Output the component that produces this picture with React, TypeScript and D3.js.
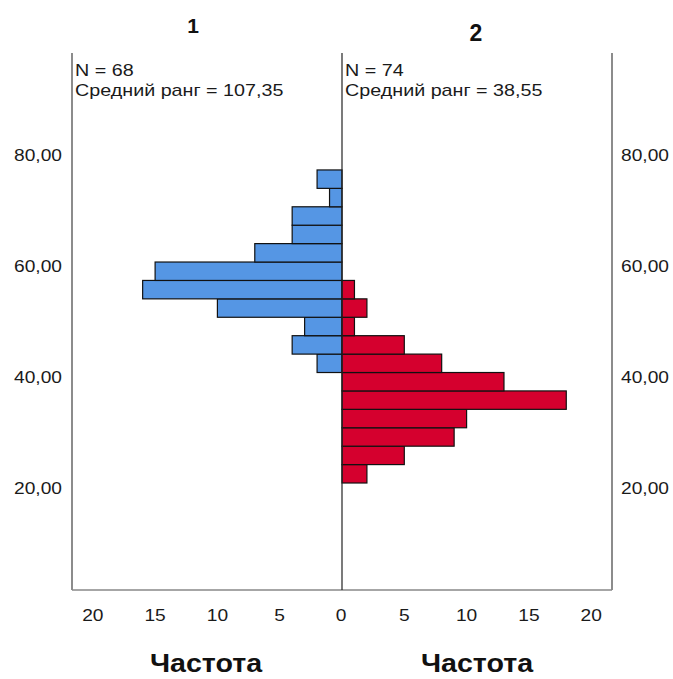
import React from "react";
import * as d3 from "d3";

// bins go bottom -> top, starting at binStart, each binWidth wide
const binStart = 20.9;
const binWidth = 3.318;
const group1Counts = [0, 0, 0, 0, 0, 0, 2, 4, 3, 10, 16, 15, 7, 4, 4, 1, 2];
const group2Counts = [2, 5, 9, 10, 18, 13, 8, 5, 1, 2, 1, 0, 0, 0, 0, 0, 0];
const groupTitles = ["1", "2"];
const groupN = [68, 74];
const meanRanks = ["107,35", "38,55"];
const yTicks = [20, 40, 60, 80];
const xTicks = [0, 5, 10, 15, 20];
const xLabel = "Частота";

const W = 673;
const H = 679;
const FONT = "'Liberation Sans', Arial, sans-serif";
const STRETCH = 1.13; // the source text is a bit wider than Arial

// text squeezed/stretched horizontally around its anchor point
const SText = ({ x, y, anchor = "start", size = 17, dy, children, fill = "#1a1a1a", weight = "normal", sx = STRETCH }: any) => (
  <g transform={`translate(${x},${y}) scale(${sx},1)`}>
    <text x={0} y={0} dy={dy} textAnchor={anchor} fontFamily={FONT} fontSize={size} fontWeight={weight} fill={fill}>
      {children}
    </text>
  </g>
);

const App = () => {
  const mid = 342;
  const left = 72;
  const right = 612;
  const top = 53;
  const bottom = 590;

  const y = d3.scaleLinear().domain([20, 80]).range([488, 155]);
  const xL = d3.scaleLinear().domain([0, 21.67]).range([mid, left]);
  const xR = d3.scaleLinear().domain([0, 21.67]).range([mid, right]);

  const bins = group1Counts.map((_, i) => ({
    lo: binStart + i * binWidth,
    hi: binStart + (i + 1) * binWidth,
  }));

  const fmt = (v: number) => v.toFixed(2).replace(".", ",");

  return (
    <svg width={W} height={H} style={{ position: "absolute", left: 0, top: 0, background: "#fff" }}>
      {/* titles */}
      <text x={193} y={33} textAnchor="middle" fontFamily={FONT} fontWeight="bold" fontSize={21} fill="#111">
        {groupTitles[0]}
      </text>
      <text x={476} y={41} textAnchor="middle" fontFamily={FONT} fontWeight="bold" fontSize={23} fill="#111">
        {groupTitles[1]}
      </text>

      {/* bars group 1 (left) */}
      {bins.map((b, i) =>
        group1Counts[i] > 0 ? (
          <rect
            key={"l" + i}
            x={xL(group1Counts[i])}
            y={y(b.hi)}
            width={mid - xL(group1Counts[i])}
            height={y(b.lo) - y(b.hi)}
            fill="#5596E4"
            stroke="#111"
            strokeWidth={1.2}
          />
        ) : null
      )}
      {/* bars group 2 (right) */}
      {bins.map((b, i) =>
        group2Counts[i] > 0 ? (
          <rect
            key={"r" + i}
            x={mid}
            y={y(b.hi)}
            width={xR(group2Counts[i]) - mid}
            height={y(b.lo) - y(b.hi)}
            fill="#D5002E"
            stroke="#111"
            strokeWidth={1.2}
          />
        ) : null
      )}

      {/* frame */}
      <line x1={left} x2={left} y1={top} y2={bottom} stroke="#666" strokeWidth={1.5} />
      <line x1={right} x2={right} y1={top} y2={bottom} stroke="#666" strokeWidth={1.5} />
      <line x1={left} x2={right} y1={bottom} y2={bottom} stroke="#888" strokeWidth={1.5} />
      <line x1={mid} x2={mid} y1={top} y2={bottom} stroke="#222" strokeWidth={1.2} />

      {/* annotations */}
      {[0, 1].map((g) => {
        const x0 = g === 0 ? left + 3 : mid + 3;
        return (
          <g key={"ann" + g}>
            <SText x={x0} y={76} sx={1.16}>{`N = ${groupN[g]}`}</SText>
            <SText x={x0} y={96} sx={1.16}>{`Средний ранг = ${meanRanks[g]}`}</SText>
          </g>
        );
      })}

      {/* y tick labels */}
      {yTicks.map((t) => (
        <g key={"yt" + t}>
          <SText x={62} y={y(t)} dy="0.36em" anchor="end">{fmt(t)}</SText>
          <SText x={621} y={y(t)} dy="0.36em" anchor="start">{fmt(t)}</SText>
        </g>
      ))}

      {/* x tick labels */}
      {xTicks.map((t) => (
        <g key={"xt" + t}>
          {t !== 0 && <SText x={xL(t)} y={621} anchor="middle">{t}</SText>}
          <SText x={t === 0 ? mid - 1 : xR(t)} y={621} anchor="middle">{t}</SText>
        </g>
      ))}

      {/* x axis titles */}
      <SText x={206} y={672} anchor="middle" size={26} weight="bold" fill="#111" sx={1.1}>
        {xLabel}
      </SText>
      <SText x={477} y={672} anchor="middle" size={26} weight="bold" fill="#111" sx={1.1}>
        {xLabel}
      </SText>
    </svg>
  );
};

export default App;
